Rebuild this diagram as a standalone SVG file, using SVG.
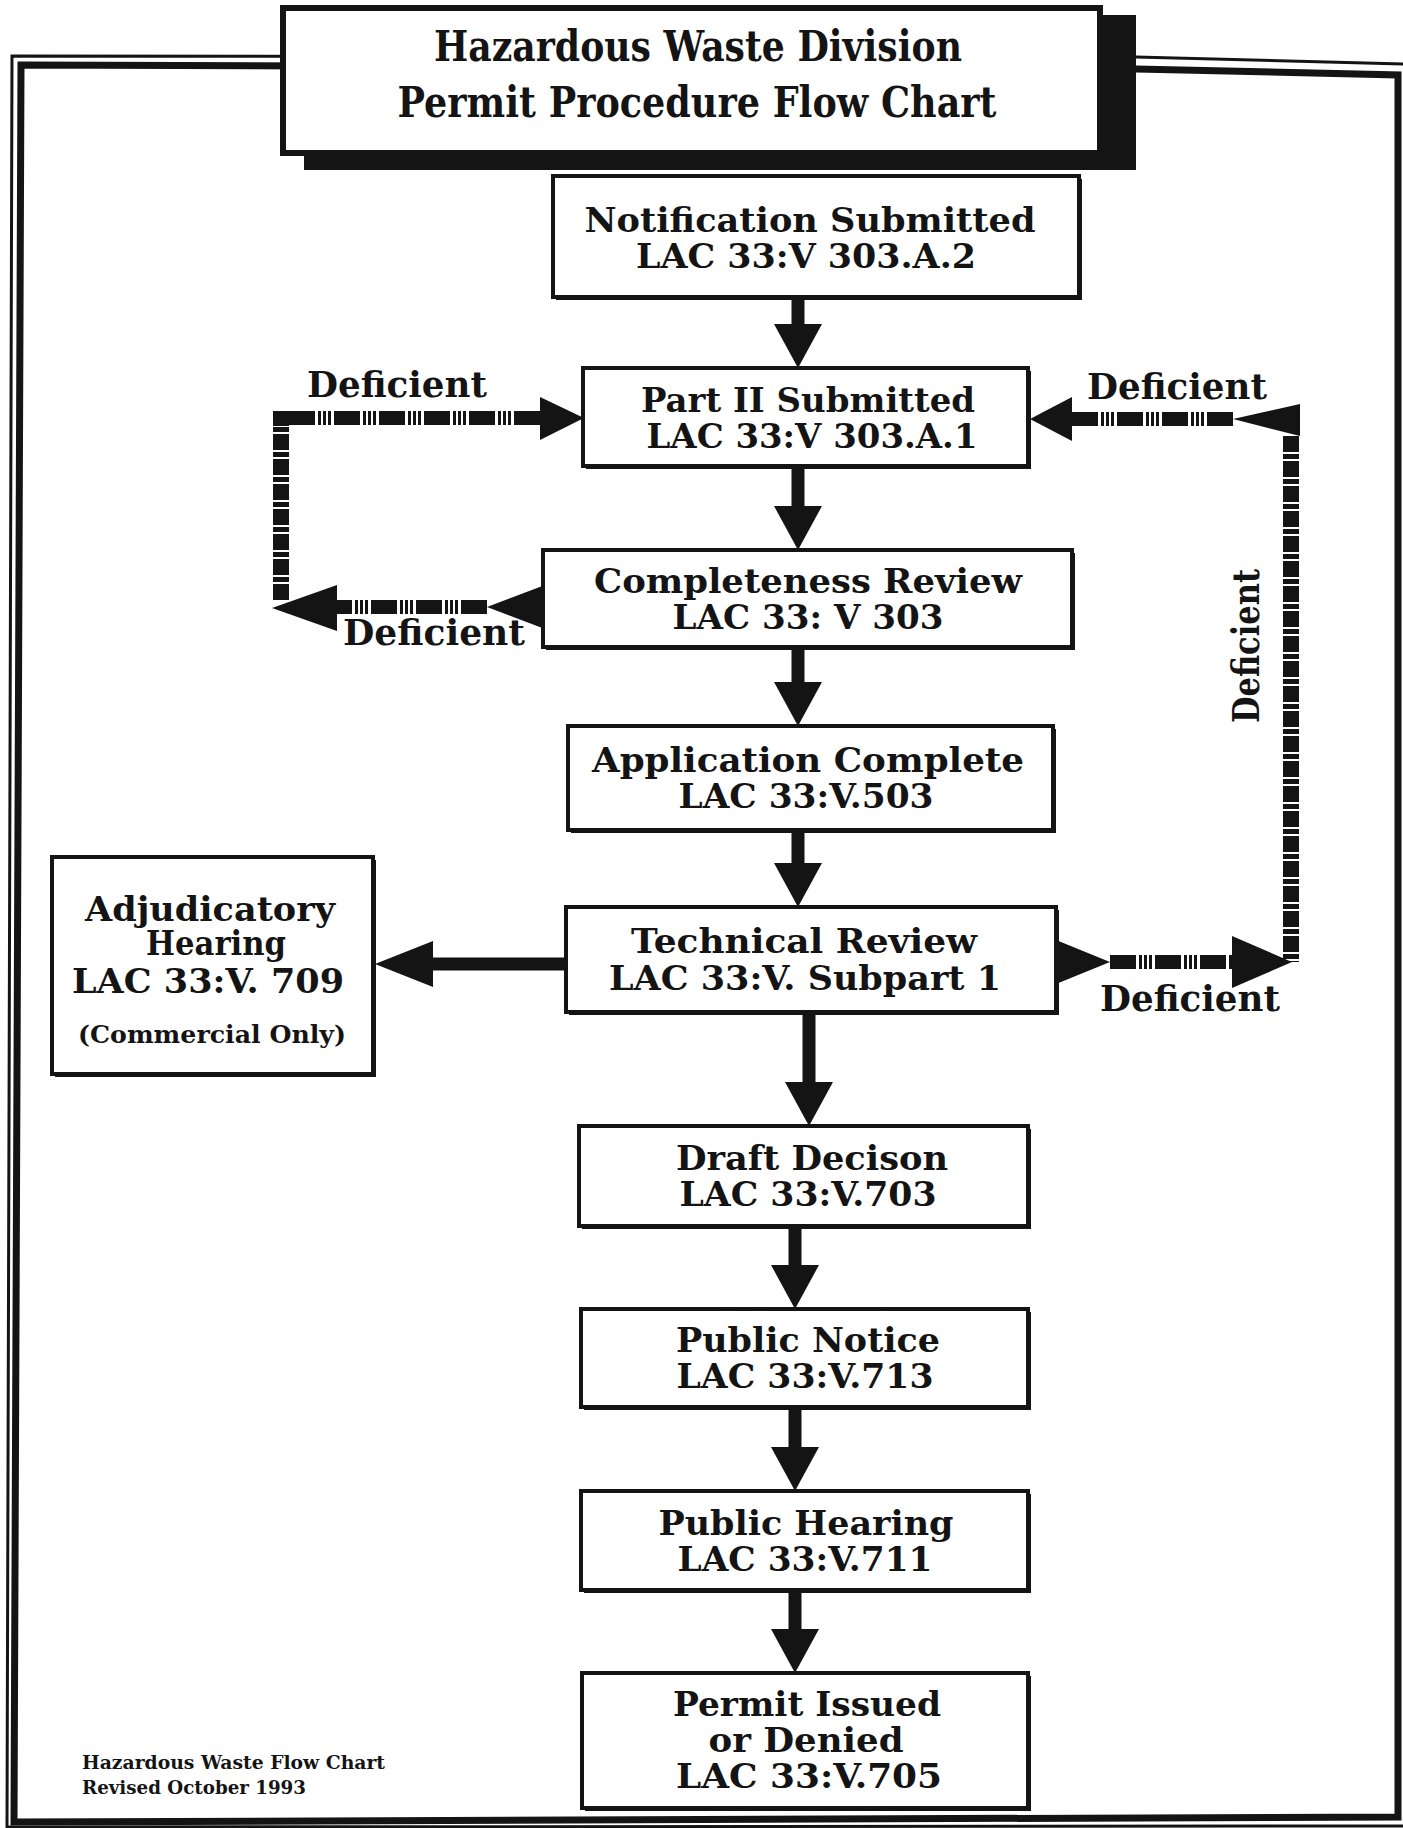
<svg xmlns="http://www.w3.org/2000/svg" width="1403" height="1828" viewBox="0 0 1403 1828">
<style>
.box{fill:#fff;stroke:#141414;stroke-width:4}
.sh{fill:#141414}
.t{font-family:"DejaVu Serif","Liberation Serif",serif;font-weight:bold;fill:#141414;text-anchor:middle}
.n{font-size:34px}
.lbl{font-size:35px}
.solid{stroke:#141414;stroke-width:13;fill:none}
.dash{stroke:#141414;stroke-width:14;fill:none;stroke-dasharray:26 3 3 2 3 2 3 3}
.dashv{stroke:#141414;stroke-width:16;fill:none;stroke-dasharray:16 2 5 2}
.k{fill:#141414}
.frame{fill:none;stroke:#141414;stroke-linejoin:miter}
</style>
<defs>
<marker id="ah" markerUnits="userSpaceOnUse" markerWidth="46" markerHeight="48" refX="1" refY="24" orient="auto" overflow="visible">
<path d="M0,0 L44,24 L0,48 Z" fill="#141414"/>
</marker>
<marker id="ahL" markerUnits="userSpaceOnUse" markerWidth="60" markerHeight="46" refX="1" refY="23" orient="auto" overflow="visible">
<path d="M0,0 L58,23 L0,46 Z" fill="#141414"/>
</marker>
</defs>
<rect x="0" y="0" width="1403" height="1828" fill="#fff"/>

<g id="frame">
<path class="frame" stroke-width="3" d="M1403,64 L1136,57 L12,56 L7,1828"/>
<path class="frame" stroke-width="3" d="M7,1827 L1403,1826"/>
<path class="frame" stroke-width="7" d="M21,65 L1136,69 L1398,75 L1398,1817 L14,1822 Z"/>
</g>

<g id="title">
<rect class="sh" x="304" y="15" width="832" height="155"/>
<rect x="283" y="8" width="817" height="145" fill="#fff" stroke="#141414" stroke-width="6"/>
<text class="t" x="698" y="61" font-size="42" textLength="528" lengthAdjust="spacingAndGlyphs">Hazardous Waste Division</text>
<text class="t" x="697" y="117" font-size="42" textLength="599" lengthAdjust="spacingAndGlyphs">Permit Procedure Flow Chart</text>
</g>

<g id="connectors">
<line class="solid" x1="798" y1="297" x2="798" y2="325" marker-end="url(#ah)"/>
<line class="solid" x1="798" y1="466" x2="798" y2="507" marker-end="url(#ah)"/>
<line class="solid" x1="798" y1="647" x2="798" y2="683" marker-end="url(#ah)"/>
<line class="solid" x1="798" y1="830" x2="798" y2="864" marker-end="url(#ah)"/>
<line class="solid" x1="809" y1="1012" x2="809" y2="1083" marker-end="url(#ah)"/>
<line class="solid" x1="795" y1="1226" x2="795" y2="1266" marker-end="url(#ah)"/>
<line class="solid" x1="795" y1="1407" x2="795" y2="1448" marker-end="url(#ah)"/>
<line class="solid" x1="795" y1="1590" x2="795" y2="1630" marker-end="url(#ah)"/>
<line class="solid" x1="566" y1="964" x2="432" y2="964" marker-end="url(#ahL)"/>

<g id="loop-left">
<polygon class="k" points="545,585 545,629 487,607"/>
<line class="dash" x1="487" y1="607" x2="337" y2="607"/>
<polygon class="k" points="337,585 337,631 272,608"/>
<line class="dashv" x1="281" y1="600" x2="281" y2="425"/>
<rect class="k" x="273" y="411" width="16" height="15"/>
<line class="dash" x1="289" y1="418" x2="540" y2="418"/>
<polygon class="k" points="540,397 540,440 584,418"/>
</g>

<g id="loop-right">
<polygon class="k" points="1072,397 1072,441 1030,419"/>
<line class="dash" x1="1233" y1="419" x2="1072" y2="419"/>
<polygon class="k" points="1300,404 1300,436 1233,419"/>
<line class="dashv" x1="1291" y1="436" x2="1291" y2="962"/>
<polygon class="k" points="1056,940 1056,984 1110,962"/>
<line class="dash" x1="1110" y1="962" x2="1232" y2="962"/>
<polygon class="k" points="1232,936 1232,988 1292,962"/>
</g>
</g>

<g id="labels">
<text class="t lbl" x="397" y="397" textLength="180" lengthAdjust="spacingAndGlyphs">Deficient</text>
<text class="t lbl" x="1177" y="399" textLength="180" lengthAdjust="spacingAndGlyphs">Deficient</text>
<text class="t lbl" x="434" y="645" textLength="182" lengthAdjust="spacingAndGlyphs">Deficient</text>
<text class="t lbl" x="1190" y="1011" textLength="180" lengthAdjust="spacingAndGlyphs">Deficient</text>
<text class="t" font-size="38" transform="translate(1259,646) rotate(-90)" textLength="154" lengthAdjust="spacingAndGlyphs">Deficient</text>
</g>

<g id="node-notification">
<rect class="sh" x="556" y="179" width="526" height="121"/>
<rect class="box" x="553" y="176" width="526" height="121"/>
<text class="t n" x="810" y="232" textLength="451" lengthAdjust="spacingAndGlyphs">Notification Submitted</text>
<text class="t n" x="806" y="268" textLength="340" lengthAdjust="spacingAndGlyphs">LAC 33:V 303.A.2</text>
</g>

<g id="node-part2">
<rect class="sh" x="586" y="371" width="445" height="98"/>
<rect class="box" x="583" y="368" width="445" height="98"/>
<text class="t n" x="808" y="412" textLength="334" lengthAdjust="spacingAndGlyphs">Part II Submitted</text>
<text class="t n" x="812" y="448" textLength="331" lengthAdjust="spacingAndGlyphs">LAC 33:V 303.A.1</text>
</g>

<g id="node-completeness">
<rect class="sh" x="546" y="553" width="529" height="97"/>
<rect class="box" x="543" y="550" width="529" height="97"/>
<text class="t n" x="808" y="593" textLength="428" lengthAdjust="spacingAndGlyphs">Completeness Review</text>
<text class="t n" x="808" y="629" textLength="271" lengthAdjust="spacingAndGlyphs">LAC 33: V 303</text>
</g>

<g id="node-application">
<rect class="sh" x="571" y="729" width="485" height="104"/>
<rect class="box" x="568" y="726" width="485" height="104"/>
<text class="t n" x="808" y="772" textLength="432" lengthAdjust="spacingAndGlyphs">Application Complete</text>
<text class="t n" x="806" y="808" textLength="255" lengthAdjust="spacingAndGlyphs">LAC 33:V.503</text>
</g>

<g id="node-technical">
<rect class="sh" x="569" y="910" width="490" height="105"/>
<rect class="box" x="566" y="907" width="490" height="105"/>
<text class="t n" x="804" y="953" textLength="346" lengthAdjust="spacingAndGlyphs">Technical Review</text>
<text class="t n" x="805" y="990" textLength="392" lengthAdjust="spacingAndGlyphs">LAC 33:V. Subpart 1</text>
</g>

<g id="node-adjudicatory">
<rect class="sh" x="55" y="860" width="321" height="217"/>
<rect class="box" x="52" y="857" width="321" height="217"/>
<text class="t n" x="210" y="921" textLength="250" lengthAdjust="spacingAndGlyphs">Adjudicatory</text>
<text class="t n" x="216" y="955" textLength="140" lengthAdjust="spacingAndGlyphs">Hearing</text>
<text class="t n" x="208" y="993" textLength="272" lengthAdjust="spacingAndGlyphs">LAC 33:V. 709</text>
<text class="t" font-size="24" x="212" y="1043" textLength="268" lengthAdjust="spacingAndGlyphs">(Commercial Only)</text>
</g>

<g id="node-draft">
<rect class="sh" x="582" y="1129" width="449" height="100"/>
<rect class="box" x="579" y="1126" width="449" height="100"/>
<text class="t n" x="812" y="1170" textLength="272" lengthAdjust="spacingAndGlyphs">Draft Decison</text>
<text class="t n" x="808" y="1206" textLength="257" lengthAdjust="spacingAndGlyphs">LAC 33:V.703</text>
</g>

<g id="node-public-notice">
<rect class="sh" x="584" y="1312" width="447" height="98"/>
<rect class="box" x="581" y="1309" width="447" height="98"/>
<text class="t n" x="808" y="1352" textLength="264" lengthAdjust="spacingAndGlyphs">Public Notice</text>
<text class="t n" x="805" y="1388" textLength="257" lengthAdjust="spacingAndGlyphs">LAC 33:V.713</text>
</g>

<g id="node-public-hearing">
<rect class="sh" x="584" y="1494" width="447" height="99"/>
<rect class="box" x="581" y="1491" width="447" height="99"/>
<text class="t n" x="806" y="1535" textLength="295" lengthAdjust="spacingAndGlyphs">Public Hearing</text>
<text class="t n" x="805" y="1571" textLength="255" lengthAdjust="spacingAndGlyphs">LAC 33:V.711</text>
</g>

<g id="node-permit">
<rect class="sh" x="585" y="1676" width="446" height="135"/>
<rect class="box" x="582" y="1673" width="446" height="135"/>
<text class="t n" x="807" y="1716" textLength="268" lengthAdjust="spacingAndGlyphs">Permit Issued</text>
<text class="t n" x="806" y="1752" textLength="195" lengthAdjust="spacingAndGlyphs">or Denied</text>
<text class="t n" x="809" y="1788" textLength="266" lengthAdjust="spacingAndGlyphs">LAC 33:V.705</text>
</g>

<g id="footer">
<text class="t" font-size="19" x="82" y="1769" style="text-anchor:start" textLength="303" lengthAdjust="spacingAndGlyphs">Hazardous Waste Flow Chart</text>
<text class="t" font-size="19" x="82" y="1794" style="text-anchor:start" textLength="224" lengthAdjust="spacingAndGlyphs">Revised October 1993</text>
</g>
</svg>
